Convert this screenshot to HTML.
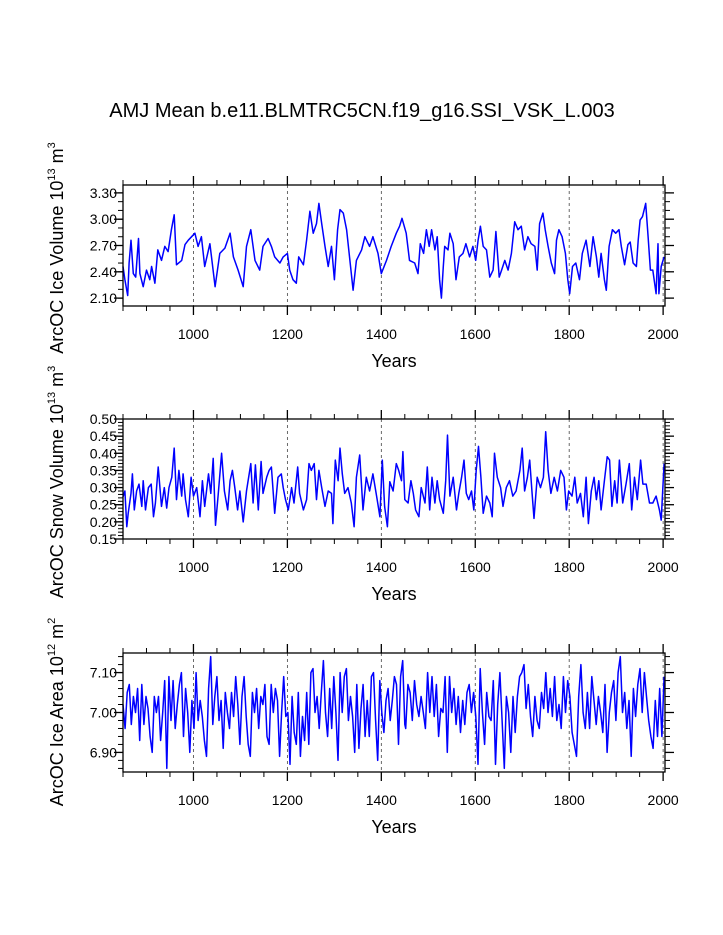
<!DOCTYPE html>
<html><head><meta charset="utf-8"><style>
body{margin:0;background:#fff;}
svg{display:block;font-family:"Liberation Sans",Arial,sans-serif;}
</style></head><body>
<svg id="chart" width="723" height="935" viewBox="0 0 723 935" xmlns="http://www.w3.org/2000/svg">
<rect width="723" height="935" fill="#fff"/>
<text x="362" y="117" font-size="20" text-anchor="middle">AMJ Mean b.e11.BLMTRC5CN.f19_g16.SSI_VSK_L.003</text>
</svg>
<script>
// Panel 1: Ice Volume
const iceVolYears=[850,854,860,863,867,872,877,883,886,893,900,907,911,918,924,932,939,946,953,959,964,975,982,989,996,1003,1010,1017,1024,1035,1046,1056,1067,1078,1085,1095,1106,1113,1122,1131,1141,1148,1159,1166,1173,1184,1191,1200,1205,1212,1219,1224,1234,1241,1248,1255,1262,1267,1273,1280,1287,1294,1300,1307,1312,1319,1326,1333,1340,1347,1358,1365,1375,1382,1393,1400,1411,1421,1432,1439,1444,1453,1460,1471,1478,1483,1490,1496,1502,1507,1514,1519,1524,1528,1532,1535,1542,1546,1553,1559,1566,1574,1580,1588,1595,1601,1606,1611,1617,1624,1631,1638,1644,1651,1656,1663,1670,1677,1684,1691,1698,1705,1712,1719,1727,1732,1737,1744,1749,1755,1762,1769,1773,1778,1785,1792,1797,1801,1807,1814,1822,1828,1836,1844,1851,1858,1863,1868,1875,1879,1885,1892,1899,1906,1911,1918,1925,1930,1936,1943,1947,1951,1956,1963,1968,1973,1978,1985,1989,1991,1996,2002];
const iceVolValues=[2.46,2.31,2.13,2.50,2.76,2.38,2.34,2.78,2.38,2.23,2.42,2.31,2.46,2.27,2.65,2.53,2.69,2.63,2.88,3.05,2.48,2.53,2.71,2.76,2.80,2.84,2.69,2.80,2.46,2.72,2.23,2.61,2.67,2.84,2.57,2.42,2.23,2.69,2.88,2.53,2.42,2.69,2.78,2.69,2.57,2.50,2.57,2.61,2.42,2.31,2.27,2.57,2.48,2.76,3.09,2.84,2.95,3.18,2.95,2.69,2.46,2.69,2.31,2.88,3.11,3.07,2.88,2.53,2.19,2.53,2.65,2.80,2.69,2.80,2.61,2.38,2.53,2.69,2.84,2.92,3.01,2.84,2.53,2.50,2.38,2.72,2.61,2.88,2.69,2.88,2.65,2.80,2.31,2.10,2.46,2.69,2.65,2.84,2.72,2.31,2.57,2.61,2.72,2.57,2.69,2.53,2.76,2.92,2.69,2.65,2.34,2.42,2.86,2.34,2.42,2.53,2.42,2.61,2.97,2.88,2.92,2.65,2.80,2.72,2.69,2.42,2.95,3.07,2.88,2.69,2.50,2.38,2.76,2.88,2.80,2.61,2.31,2.15,2.46,2.50,2.31,2.61,2.76,2.46,2.80,2.57,2.34,2.61,2.31,2.19,2.69,2.88,2.84,2.88,2.69,2.48,2.71,2.74,2.50,2.46,2.76,2.99,3.03,3.18,2.80,2.42,2.42,2.15,2.72,2.15,2.46,2.57];
const iceVolTicks=[3.30,3.00,2.70,2.40,2.10];
// Panel 2: Snow Volume
const snowYears=[850,854,858,861,867,870,874,879,884,890,893,898,904,910,915,919,925,932,938,943,948,954,959,964,969,975,978,983,989,995,1000,1007,1014,1019,1024,1032,1037,1042,1047,1053,1060,1066,1073,1078,1083,1088,1094,1099,1106,1113,1122,1127,1132,1138,1144,1148,1156,1161,1166,1173,1180,1187,1191,1196,1202,1209,1214,1222,1226,1234,1241,1246,1251,1257,1262,1267,1273,1280,1287,1294,1297,1302,1308,1312,1317,1322,1329,1336,1342,1347,1354,1361,1368,1375,1382,1390,1397,1402,1407,1413,1418,1425,1432,1437,1443,1446,1450,
1457,1463,1468,1473,1480,1485,1493,1498,1503,1508,1514,1519,1524,1532,1537,1541,1546,1553,1560,1565,1571,1576,1581,1586,1592,1597,1602,1607,1612,1617,1624,1631,1636,1641,1647,1654,1659,1666,1673,1680,1687,1695,1700,1705,1711,1716,1721,1725,1732,1739,1745,1750,1755,1761,1768,1775,1782,1789,1794,1799,1806,1812,1817,1824,1830,1836,1841,1847,1853,1858,1863,1868,1875,1881,1886,1891,1897,1902,1907,1914,1921,1928,1933,1939,1945,1952,1957,1964,1971,1978,1985,1992,1996,2002];
const snowValues=[0.273,0.29,0.186,0.225,0.283,0.34,0.235,0.29,0.31,0.245,0.32,0.235,0.30,0.31,0.215,0.255,0.36,0.245,0.30,0.24,0.30,0.33,0.415,0.265,0.35,0.275,0.34,0.265,0.215,0.33,0.275,0.30,0.215,0.32,0.245,0.34,0.283,0.385,0.19,0.283,0.40,0.29,0.235,0.32,0.35,0.30,0.235,0.29,0.20,0.29,0.37,0.255,0.366,0.235,0.376,0.283,0.33,0.35,0.36,0.225,0.33,0.34,0.30,0.265,0.235,0.30,0.255,0.36,0.283,0.235,0.265,0.37,0.35,0.37,0.265,0.35,0.30,0.245,0.29,0.283,0.195,0.38,0.32,0.415,0.34,0.283,0.30,0.255,0.186,0.33,0.395,0.235,0.33,0.29,0.34,0.275,0.215,0.38,0.245,0.186,0.317,0.29,0.37,0.35,0.32,0.405,0.265,
0.255,0.32,0.283,0.235,0.215,0.30,0.255,0.36,0.235,0.33,0.255,0.32,0.265,0.225,0.32,0.453,0.275,0.33,0.235,0.283,0.33,0.38,0.283,0.265,0.29,0.235,0.35,0.42,0.33,0.225,0.275,0.255,0.215,0.40,0.33,0.30,0.245,0.30,0.32,0.275,0.29,0.35,0.415,0.29,0.33,0.38,0.283,0.21,0.33,0.30,0.33,0.463,0.35,0.283,0.33,0.29,0.35,0.33,0.235,0.29,0.275,0.33,0.255,0.283,0.215,0.33,0.195,0.29,0.33,0.265,0.32,0.235,0.32,0.39,0.38,0.245,0.32,0.255,0.38,0.255,0.31,0.37,0.235,0.33,0.265,0.38,0.31,0.31,0.255,0.255,0.275,0.235,0.205,0.37];
const snowTicks=[0.50,0.45,0.40,0.35,0.30,0.25,0.20,0.15];
// Panel 3: Ice Area (sampled evenly in time within each half)
const areaSpanA=[850,1450];
const areaValuesA=[7.02,6.96,7.05,7.07,6.97,7.04,7.00,7.06,6.93,7.07,6.97,7.04,7.01,6.94,6.90,7.04,7.00,7.04,6.93,7.00,7.08,6.86,7.09,6.98,7.08,6.96,7.02,7.07,7.10,6.94,7.06,7.00,6.90,7.03,6.96,7.10,6.98,7.03,6.99,6.93,6.89,7.06,7.14,6.97,7.04,7.09,6.98,7.03,6.91,7.05,7.00,6.96,7.05,6.99,7.09,7.02,6.92,7.04,7.09,6.99,6.92,6.89,7.05,7.00,7.06,6.96,7.04,7.02,7.07,6.94,6.92,7.07,7.00,7.06,7.03,6.89,7.00,7.09,6.99,7.00,6.87,7.04,6.95,6.92,7.05,6.89,6.99,6.93,7.05,6.92,7.10,7.11,7.00,7.04,6.96,7.05,7.13,7.00,6.94,7.06,6.96,7.09,7.00,6.88,7.10,7.00,7.09,7.11,6.98,7.04,6.99,6.90,7.07,6.91,7.01,7.07,6.94,7.03,6.94,7.09,7.10,6.98,6.88,7.08,7.00,6.95,7.03,7.06,6.98,7.03,7.09,7.07,6.92,7.09,7.13,6.97];
const areaSpanB=[1452,2002];
const areaValuesB=[6.96,7.07,7.05,6.98,7.08,7.02,6.99,7.04,7.00,6.96,7.10,7.00,7.09,6.99,7.07,6.94,7.01,7.00,7.09,6.90,7.09,7.00,7.06,6.97,7.04,6.95,7.03,6.97,7.05,7.07,7.00,7.05,6.99,6.87,7.11,7.00,6.92,7.05,6.99,6.98,7.08,6.87,7.02,7.10,6.98,6.86,7.04,7.00,6.90,7.04,6.95,7.04,7.09,7.10,7.12,7.01,7.07,6.99,6.94,7.04,6.98,6.96,7.05,7.01,7.10,7.00,7.06,6.99,7.09,6.98,7.02,6.96,7.09,7.00,7.08,7.04,6.95,6.92,6.89,7.04,7.12,7.00,6.96,7.05,6.96,7.09,7.03,6.97,7.04,7.00,6.95,7.07,6.90,7.00,7.05,7.08,6.98,7.10,7.14,7.00,7.05,6.96,7.03,6.89,7.06,6.99,7.07,7.11,7.00,7.10,7.04,6.98,6.94,6.91,7.03,6.94,7.06,6.94,7.09];
const areaTicks=[7.10,7.00,6.90];
const yearTicks=[1000,1200,1400,1600,1800,2000];

const NS='http://www.w3.org/2000/svg';
const svg=document.getElementById('chart');
function mk(tag,attrs,parent){const e=document.createElementNS(NS,tag);for(const k in attrs)e.setAttribute(k,attrs[k]);(parent||svg).appendChild(e);return e;}

const X0=123,X1=665,YR0=850,YR1=2004;
function xs(yr){return X0+(yr-YR0)/(YR1-YR0)*(X1-X0);}
function spanYears(span,n){const a=[];for(let i=0;i<n;i++)a.push(span[0]+(span[1]-span[0])*i/(n-1));return a;}

function panel(id,top,bot,vmin,vmax,years,vals,ticks,minorStep,titleParts,titleY){
  const g=mk('g',{});
  
  
  const ys=v=>bot-(v-vmin)/(vmax-vmin)*(bot-top);
  yearTicks.forEach(yr=>{
    const l=mk('line',{x1:xs(yr),x2:xs(yr),y1:top,y2:bot,stroke:'#444','stroke-width':0.8,'stroke-dasharray':'3,3'},g);
    
    
  });
  const pts=[];
  const n=Math.min(years.length,vals.length);
  for(let i=0;i<n;i++)pts.push(xs(years[i]).toFixed(1)+','+ys(vals[i]).toFixed(1));
  const pl=mk('polyline',{points:pts.join(' '),fill:'none',stroke:'#0000ff','stroke-width':1.5,'stroke-linejoin':'round'},g);
  
  
  const fr=mk('rect',{x:X0,y:top,width:X1-X0,height:bot-top,fill:'none',stroke:'#000','stroke-width':1.3},g);
  
  
  for(let yr=850;yr<=2004;yr+=50){
    const major=yr%200===0, len=major?9:5;
    mk('line',{x1:xs(yr),x2:xs(yr),y1:bot,y2:bot+len,stroke:'#000','stroke-width':major?1.3:1},g);
    mk('line',{x1:xs(yr),x2:xs(yr),y1:top,y2:top-len,stroke:'#000','stroke-width':major?1.3:1},g);
  }
  yearTicks.forEach(yr=>{
    const t=mk('text',{x:xs(yr),y:bot+33,'font-size':14,'text-anchor':'middle'},g);
    t.textContent=yr;
    
    
  });
  const start=Math.ceil(vmin/minorStep-1e-6);
  for(let k=start;k*minorStep<=vmax+1e-9;k++){
    const y=ys(k*minorStep);
    mk('line',{x1:X0,x2:X0-5,y1:y,y2:y,stroke:'#000','stroke-width':1},g);
    mk('line',{x1:X1,x2:X1+5,y1:y,y2:y,stroke:'#000','stroke-width':1},g);
  }
  ticks.forEach(v=>{
    const y=ys(v);
    mk('line',{x1:X0,x2:X0-9,y1:y,y2:y,stroke:'#000','stroke-width':1.3},g);
    mk('line',{x1:X1,x2:X1+9,y1:y,y2:y,stroke:'#000','stroke-width':1.3},g);
    const t=mk('text',{x:117,y:y+5,'font-size':14,'text-anchor':'end'},g);
    t.textContent=v.toFixed(2);
    
    
  });
  const xt=mk('text',{x:394,y:bot+61,'font-size':18,'text-anchor':'middle'},g);
  xt.textContent='Years';
  
  
  const yt=mk('text',{transform:'translate(63,'+titleY+') rotate(-90)','font-size':18,'text-anchor':'middle'},g);
  
  
  titleParts.forEach(p=>{
    const s=mk('tspan',p[1]?{'font-size':11,dy:-8}:{'dy':p[2]||0},yt);
    s.textContent=p[0];
  });
}
panel('ice-volume',185,306,2.01,3.39,iceVolYears,iceVolValues,iceVolTicks,0.1,
  [['ArcOC Ice Volume 10'],['13',1],[' m',0,8],['3',1]],248);
panel('snow-volume',419,539,0.15,0.50,snowYears,snowValues,snowTicks,0.01,
  [['ArcOC Snow Volume 10'],['13',1],[' m',0,8],['3',1]],482);
const areaYears=spanYears(areaSpanA,areaValuesA.length).concat(spanYears(areaSpanB,areaValuesB.length));
const areaValues=areaValuesA.concat(areaValuesB);
panel('ice-area',653,772,6.851,7.149,areaYears,areaValues,areaTicks,0.02,
  [['ArcOC Ice Area 10'],['12',1],[' m',0,8],['2',1]],712);
</script>
</body></html>
